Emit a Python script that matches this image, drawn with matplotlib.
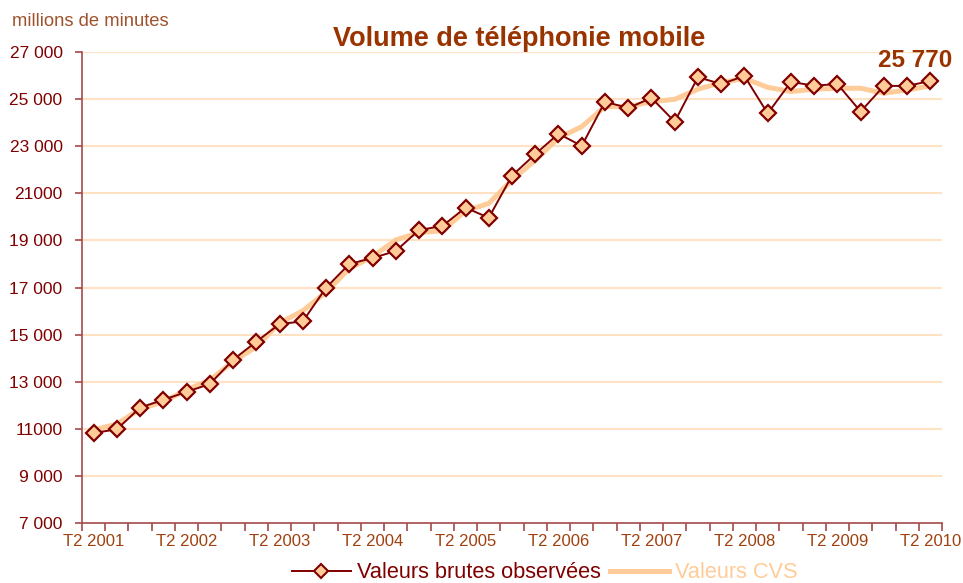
import matplotlib
matplotlib.use("Agg")
import matplotlib.pyplot as plt
from matplotlib.lines import Line2D

plt.rcParams['font.family'] = ['Liberation Sans', 'DejaVu Sans']

quarters = ["T%d %d" % (q, y) for y in range(2001, 2011) for q in (1, 2, 3, 4)][1:38]
raw = [10820, 10980, 11900, 12230, 12570, 12900, 13930, 14700, 15450, 15560,
       16990, 18000, 18250, 18550, 19440, 19610, 20390, 19960, 21750, 22660,
       23530, 23010, 24890, 24620, 25050, 24040, 25930, 25640, 25980, 24390,
       25730, 25570, 25640, 24470, 25560, 25560, 25770]
cvs = [10950, 11200, 11840, 12150, 12650, 13070, 13850, 14490, 15490, 16010,
       16800, 17800, 18310, 19020, 19330, 19410, 20250, 20570, 21560, 22410,
       23350, 23830, 24680, 24680, 24890, 24990, 25420, 25700, 25880, 25500,
       25320, 25420, 25460, 25460, 25250, 25390, 25560]
ytick_values = [7000, 9000, 11000, 13000, 15000, 17000, 19000, 21000, 23000, 25000, 27000]
ytick_labels = ["7 000", "9 000", "11000", "13 000", "15 000", "17 000", "19 000",
                "21000", "23 000", "25 000", "27 000"]
xtick_labels = ["T2 %d" % y for y in range(2001, 2011)]
title = "Volume de téléphonie mobile"
unit_label = "millions de minutes"
last_label = "25 770"

DARK = "#800000"
PEACH = "#FFCC99"
GRID = "#FFE2C4"
SPINE = "#A34A4A"
BROWN = "#993300"
XLAB = "#A0400F"

fig = plt.figure(figsize=(9.63, 5.83), dpi=100)
ax = fig.add_axes([82/963, 1-523/583, (942-82)/963, (523-52)/583])

x = list(range(len(raw)))
ax.plot(x, cvs, color=PEACH, lw=3.6, solid_capstyle='round', zorder=2)
ax.plot(x, raw, color=DARK, lw=1.4, marker='D', ms=8, mfc=PEACH, mec=DARK,
        mew=1.6, zorder=3)

ax.set_xlim(-0.5, len(raw) - 0.5)
ax.set_ylim(7000, 27000)
ax.set_yticks(ytick_values)
ax.set_yticklabels(ytick_labels)
for v in ytick_values[1:]:
    ax.axhline(v, color=GRID, lw=1.5, zorder=1)

ax.set_xticks([i + 0.5 for i in range(-1, len(raw))])
ax.set_xticklabels([])
ax.set_xticks(list(range(0, len(raw), 4)), minor=True)
ax.set_xticklabels(xtick_labels, minor=True)
ax.tick_params(axis='x', which='major', length=6, width=1.2, color=SPINE, direction='out')
ax.tick_params(axis='x', which='minor', length=0, pad=8, labelsize=12, labelcolor=XLAB)
ax.tick_params(axis='y', length=5, width=1.2, color=SPINE, direction='out', pad=9,
               labelsize=12.5, labelcolor=DARK)

for s in ('top', 'right'):
    ax.spines[s].set_visible(False)
for s in ('left', 'bottom'):
    ax.spines[s].set_color(SPINE)
    ax.spines[s].set_linewidth(1.2)

fig.text(519/963, 1-39/583, title, ha='center', va='center', fontsize=19.5,
         fontweight='bold', color=BROWN)
fig.text(12/963, 1-21/583, unit_label, ha='left', va='center', fontsize=13.2,
         color="#A0522D")
ax.annotate(last_label, xy=(x[-1], raw[-1]), xytext=(-11, 15), textcoords='offset points',
            ha='center', va='center', fontsize=17.5, fontweight='bold', color=BROWN)

handles = [Line2D([], [], color=DARK, lw=1.4, marker='D', ms=7, mfc=PEACH, mec=DARK, mew=1.5),
           Line2D([], [], color=PEACH, lw=3.6)]
leg = fig.legend(handles, ["Valeurs brutes observées", "Valeurs CVS"], loc='center',
                 bbox_to_anchor=(545/963, 10/583), ncol=2, frameon=False, fontsize=15.7,
                 handlelength=2.7, handletextpad=0.3, columnspacing=0.4,
                 labelcolor=[DARK, PEACH], borderpad=0, borderaxespad=0)

fig.savefig("out.png", dpi=100)
